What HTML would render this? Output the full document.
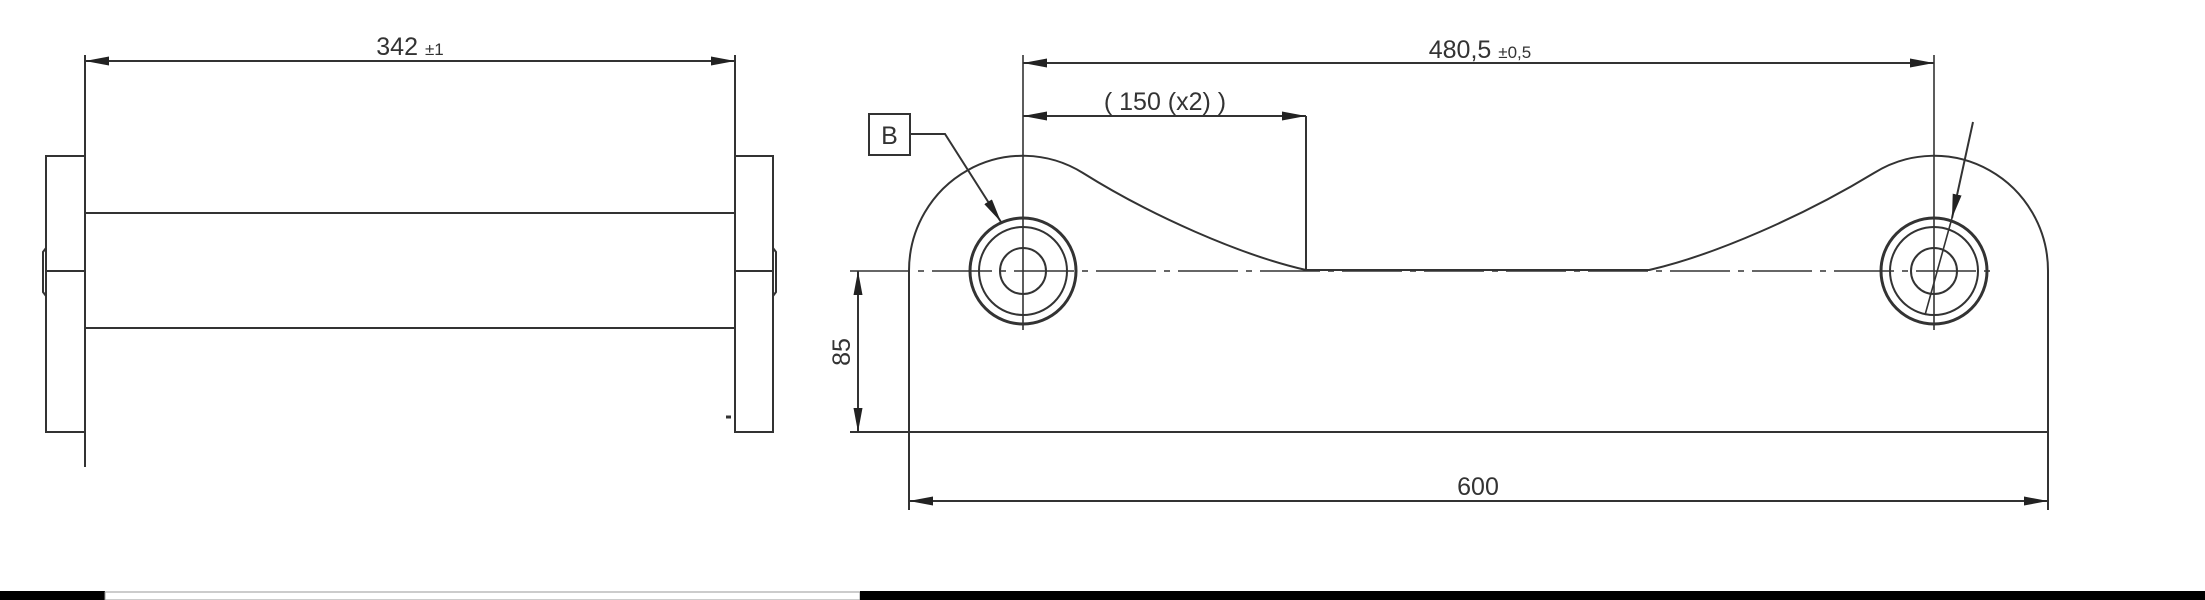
<!DOCTYPE html>
<html><head><meta charset="utf-8"><style>
html,body{margin:0;padding:0;background:#fff;}
svg{display:block;}
text{font-family:"Liberation Sans Narrow","Liberation Sans",sans-serif;fill:#333;}
</style></head><body>
<svg width="2205" height="600" viewBox="0 0 2205 600" xmlns="http://www.w3.org/2000/svg">
<defs>
<marker id="a" viewBox="0 0 24 9" refX="24" refY="4.5" markerWidth="24" markerHeight="9" markerUnits="userSpaceOnUse" orient="auto-start-reverse"><path d="M0,0 L24,4.5 L0,9 Z" fill="#222"/></marker>
</defs>
<g stroke="#333" fill="none" stroke-width="2">
<line x1="85" y1="55" x2="85" y2="467"/>
<line x1="735" y1="55" x2="735" y2="170"/>
<line x1="85" y1="61" x2="735" y2="61" marker-start="url(#a)" marker-end="url(#a)"/>
<rect x="46" y="156" width="39" height="276"/>
<rect x="735" y="156" width="38" height="276"/>
<line x1="85" y1="213" x2="735" y2="213"/>
<line x1="85" y1="328" x2="735" y2="328"/>
<line x1="46" y1="271" x2="85" y2="271"/>
<line x1="735" y1="271" x2="773" y2="271"/>
<path d="M46,248 L43,252 L43,292 L46,296"/>
<path d="M773,248 L776,252 L776,292 L773,296"/>
<line x1="726" y1="417" x2="731" y2="417" stroke-width="3"/>
<line x1="1023" y1="55" x2="1023" y2="330" stroke-width="1.6"/>
<line x1="1934" y1="55" x2="1934" y2="330" stroke-width="1.6"/>
<line x1="1023" y1="63" x2="1934" y2="63" marker-start="url(#a)" marker-end="url(#a)"/>
<line x1="1023" y1="116" x2="1306" y2="116" marker-start="url(#a)" marker-end="url(#a)"/>
<line x1="1306" y1="116" x2="1306" y2="270"/>
<path d="M909,432 L909,271 A114,115 0 0 1 1083,173 C1150,215 1240,255 1306,270 L1649,270 C1715,255 1805,215 1874,173 A114,115 0 0 1 2048,271 L2048,432"/>
<line x1="850" y1="432" x2="2048" y2="432"/>
<line x1="850" y1="271" x2="1995" y2="271" stroke-dasharray="60,8,6,8" stroke-width="1.6"/>
<circle cx="1023" cy="271" r="53" stroke-width="3"/>
<circle cx="1023" cy="271" r="44"/>
<circle cx="1023" cy="271" r="23"/>
<circle cx="1934" cy="271" r="53" stroke-width="3"/>
<circle cx="1934" cy="271" r="44"/>
<circle cx="1934" cy="271" r="23"/>
<line x1="858" y1="271" x2="858" y2="432" marker-start="url(#a)" marker-end="url(#a)"/>
<line x1="909" y1="432" x2="909" y2="510"/>
<line x1="2048" y1="432" x2="2048" y2="510"/>
<line x1="909" y1="501" x2="2048" y2="501" marker-start="url(#a)" marker-end="url(#a)"/>
<rect x="869" y="114" width="41" height="41"/>
<polyline points="910,134 945,134 1001,222" marker-end="url(#a)"/>
<line x1="1973" y1="122" x2="1952" y2="218" marker-end="url(#a)"/>
<line x1="1952" y1="218" x2="1925" y2="315" stroke-width="1.6"/>
</g>
<text x="410" y="55" font-size="25" text-anchor="middle">342 <tspan font-size="17">±1</tspan></text>
<text x="1480" y="58" font-size="25" text-anchor="middle">480,5 <tspan font-size="17">±0,5</tspan></text>
<text x="1165" y="110" font-size="25" text-anchor="middle">( 150 (x2) )</text>
<text x="889.5" y="144" font-size="25" text-anchor="middle">B</text>
<text x="1478" y="495" font-size="25" text-anchor="middle">600</text>
<text x="0" y="0" font-size="25" text-anchor="middle" transform="translate(850,352) rotate(-90)">85</text>
<rect x="0" y="591" width="105" height="9" fill="#000"/>
<rect x="105" y="592" width="755" height="8" fill="#fff" stroke="#999" stroke-width="1"/>
<rect x="860" y="591" width="1345" height="9" fill="#000"/>
</svg>
</body></html>
